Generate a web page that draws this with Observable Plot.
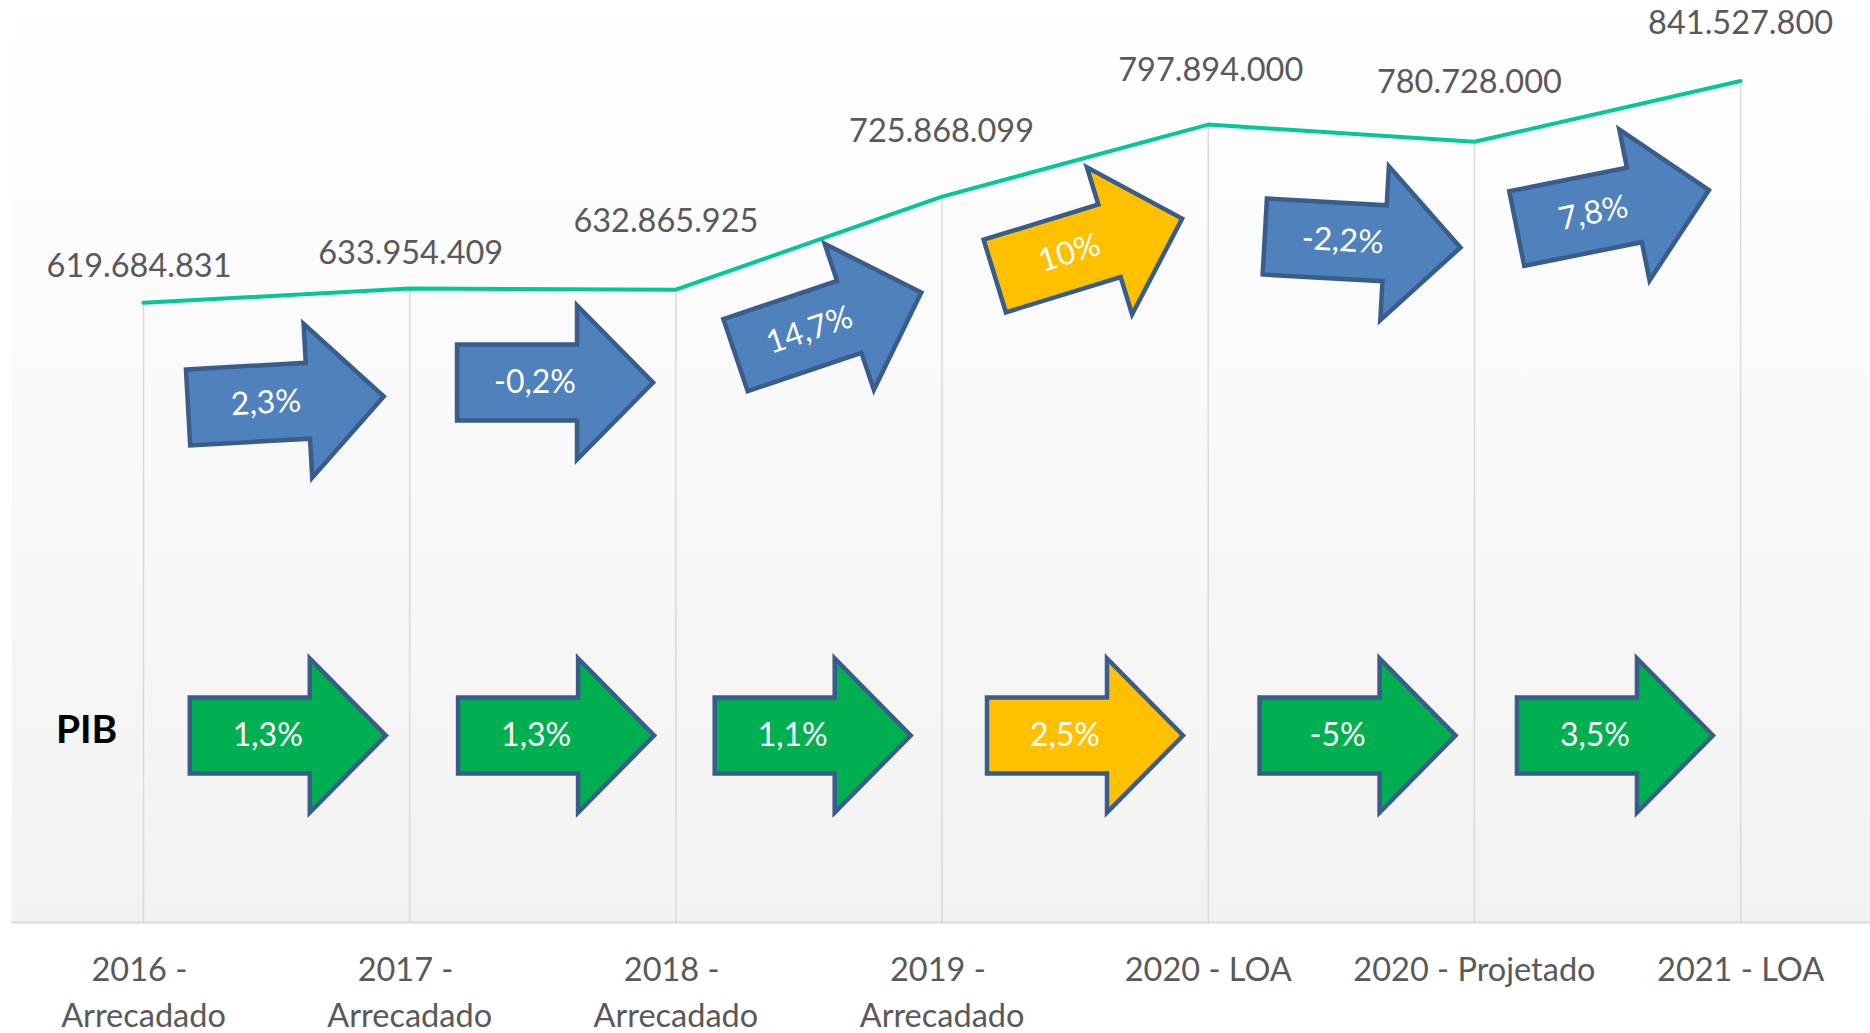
<!DOCTYPE html>
<html>
<head>
<meta charset="utf-8">
<script src="https://cdn.jsdelivr.net/npm/d3@7"></script>
<script src="https://cdn.jsdelivr.net/npm/@observablehq/plot@0.6"></script>
<style>
  html, body { margin: 0; padding: 0; background: #ffffff; }
  #chart svg { display: block; }
</style>
</head>
<body>
<div id="chart"></div>
<script>
// ---------- DATA ----------
const categories = ["2016 - Arrecadado", "2017 - Arrecadado", "2018 - Arrecadado", "2019 - Arrecadado", "2020 - LOA", "2020 - Projetado", "2021 - LOA"];
const tickLabels = ["2016 -\u00a0\nArrecadado", "2017 -\u00a0\nArrecadado", "2018 -\u00a0\nArrecadado", "2019 -\u00a0\nArrecadado", "2020 - LOA", "2020 - Projetado", "2021 - LOA"];
const receita = [619684831, 633954409, 632865925, 725868099, 797894000, 780728000, 841527800];
const variacaoReceita = ["2,3%", "-0,2%", "14,7%", "10%", "-2,2%", "7,8%"];
const variacaoPIB = ["1,3%", "1,3%", "1,1%", "2,5%", "-5%", "3,5%"];
const destaque = [false, false, false, true, false, false]; // 2019 highlighted
const rowLabel = "PIB";

// ---------- LAYOUT (positions of annotation arrows, label offsets) ----------
// arrow centre: x in category-index units, y in millions; angle in degrees (screen)
const arrowTopX = [0.535, 1.546, 2.573, 3.550, 4.580, 5.520];
const arrowTopY = [520.5, 540, 598.7, 675.2, 680.5, 713.2];
const arrowTopAngle = [-3.2, 0, -18.65, -17.05, 3.2, -11.35];
const arrowPibX = [0.542, 1.550, 2.514, 3.537, 4.561, 5.528];
const arrowPibY = 187;
const valueLabelDx = [-4.5, 1, -10, -0.5, 2.5, -5, 0];
const valueLabelDy = [-35.8, -35, -67.6, -64.6, -54.1, -59.3, -57];

// ---------- BUILD ----------
const fmt = d3.formatLocale({decimal: ",", thousands: ".", grouping: [3], currency: ["R$", ""]}).format(",d");
const series = receita.map((v, i) => ({i, cat: categories[i], m: v / 1e6, label: fmt(v)}));

const colBlue = "#4f81bd", colGreen = "#00b050", colYellow = "#ffc000", colEdge = "#385d8a";
const pxPerUnit = 1859 / 6.984;
const labelShift = 20;

const topArrows = variacaoReceita.map((t, k) => ({
  x: arrowTopX[k], y: arrowTopY[k], a: arrowTopAngle[k], text: t,
  fill: destaque[k] ? colYellow : colBlue
}));
const pibArrows = variacaoPIB.map((t, k) => ({
  x: arrowPibX[k], y: arrowPibY, a: 0, text: t,
  fill: destaque[k] ? colYellow : colGreen
}));
const allArrows = topArrows.concat(pibArrows);

const blockArrow = {
  draw(context, l) {
    const s = 38, h = 77, hl = 76;
    context.moveTo(-s, 0);
    context.lineTo(-s, -(l - hl));
    context.lineTo(-h, -(l - hl));
    context.lineTo(0, -l);
    context.lineTo(h, -(l - hl));
    context.lineTo(s, -(l - hl));
    context.lineTo(s, 0);
    context.closePath();
  }
};

const rad = (a) => a * Math.PI / 180;

const marks = [
  Plot.frame({fill: "url(#bgGrad)", stroke: "none"}),
  Plot.ruleX(series, {x: "i", y1: 0, y2: "m", stroke: "#d9d9d9", strokeWidth: 1.5}),
  Plot.ruleY([0], {stroke: "#d9d9d9", strokeWidth: 2}),
  Plot.line(series, {x: "i", y: "m", stroke: "#00c896", strokeWidth: 4}),
  ...series.map((d, k) => Plot.text([d], {
    x: "i", y: "m", text: "label", dx: valueLabelDx[k], dy: valueLabelDy[k],
    fontSize: 32.5, fill: "#595959"
  })),
  Plot.vector(allArrows, {
    x: "x", y: "y", rotate: (d) => 90 + d.a, length: 196, anchor: "middle",
    shape: blockArrow, fill: "fill", stroke: colEdge, strokeWidth: 4.5,
    strokeLinejoin: "miter", strokeLinecap: "butt"
  }),
  Plot.text(allArrows, {
    x: (d) => d.x - labelShift * Math.cos(rad(d.a)) / pxPerUnit,
    y: (d) => d.y + labelShift * Math.sin(rad(d.a)),
    text: "text", rotate: "a", fontSize: 32, fill: "white"
  }),
  Plot.text([rowLabel], {
    x: -0.214, y: arrowPibY, text: (d) => d, dy: -5,
    fontSize: 39, fontWeight: "bold", fill: "#000000"
  }),
  Plot.axisX({
    ticks: d3.range(categories.length), tickFormat: (i) => tickLabels[i],
    tickSize: 0, tickPadding: 26, fontSize: 32.5, lineHeight: 1.42,
    color: "#595959"
  })
];

const chart = Plot.plot({
  width: 1870,
  height: 1033,
  marginLeft: 11,
  marginRight: 0,
  marginTop: 0,
  marginBottom: 111,
  x: {type: "linear", domain: [-0.496, 6.488]},
  y: {domain: [0, 922], axis: null},
  style: {fontFamily: "Lato, 'Open Sans', sans-serif", background: "#ffffff", overflow: "visible"},
  marks
});

chart.insertAdjacentHTML("afterbegin",
  '<defs><linearGradient id="bgGrad" x1="0" y1="0" x2="0" y2="1">' +
  '<stop offset="0" stop-color="#ffffff"/><stop offset="1" stop-color="#f2f2f2"/>' +
  '</linearGradient></defs>');

document.getElementById("chart").appendChild(chart);
</script>
</body>
</html>
